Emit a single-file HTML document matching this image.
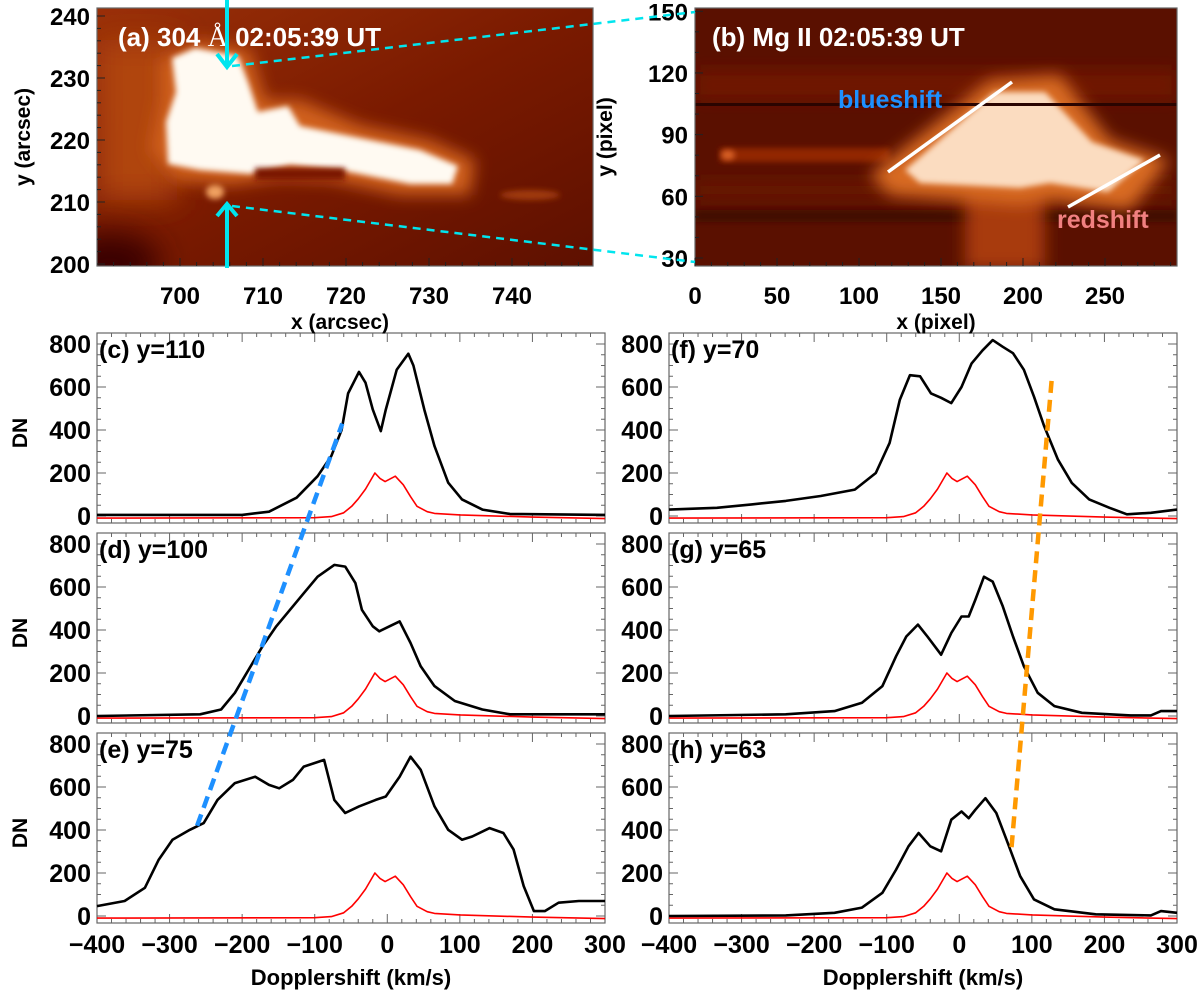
<!DOCTYPE html>
<html>
<head>
<meta charset="utf-8">
<style>
  html,body{margin:0;padding:0;background:#fff;}
  svg{display:block;font-family:"Liberation Sans",sans-serif;font-weight:bold;}
</style>
</head>
<body>
<svg id="fig" width="1200" height="994" viewBox="0 0 1200 994" xmlns="http://www.w3.org/2000/svg">
  <defs>
    <filter id="b8" x="-50%" y="-50%" width="200%" height="200%"><feGaussianBlur stdDeviation="8"/></filter>
    <filter id="b4" x="-50%" y="-50%" width="200%" height="200%"><feGaussianBlur stdDeviation="3"/></filter>
    <filter id="b15" x="-50%" y="-50%" width="200%" height="200%"><feGaussianBlur stdDeviation="15"/></filter>
    <clipPath id="clipA"><rect x="97" y="8" width="496" height="258"/></clipPath>
    <clipPath id="clipB"><rect x="695" y="8" width="482" height="258"/></clipPath>
    <linearGradient id="gA" x1="0" y1="0" x2="1" y2="1">
      <stop offset="0" stop-color="#9a3008"/><stop offset="0.5" stop-color="#7a1a00"/><stop offset="1" stop-color="#5e1000"/>
    </linearGradient>
  </defs>

  <!-- Panel (a) image -->
  <g clip-path="url(#clipA)">
    <rect x="97" y="8" width="496" height="258" fill="url(#gA)"/>
    <rect x="97" y="40" width="80" height="160" fill="#b0440f" filter="url(#b15)"/>
    <ellipse cx="110" cy="262" rx="50" ry="30" fill="#3a0500" filter="url(#b15)"/>
    <polygon points="160,60 200,40 250,50 265,100 300,100 360,125 430,140 475,160 470,195 400,195 330,180 280,178 230,185 175,180 150,150 160,100" fill="#d0601a" filter="url(#b8)"/>
    <polygon points="172,58 195,48 238,56 248,82 258,112 288,106 300,126 350,136 420,150 458,166 452,184 410,184 340,170 290,165 250,174 200,170 168,164 166,122 176,92" fill="#fffaf2" filter="url(#b4)"/>
    <rect x="255" y="168" width="90" height="12" fill="#7a1800" filter="url(#b4)"/>
    <ellipse cx="215" cy="192" rx="9" ry="7" fill="#f0a060" filter="url(#b4)"/>
    <ellipse cx="530" cy="195" rx="30" ry="5" fill="#a03a0c" filter="url(#b4)"/>
  </g>

  <!-- Panel (b) image -->
  <g clip-path="url(#clipB)">
    <rect x="695" y="8" width="482" height="258" fill="#5a1000"/>
    <rect x="695" y="70" width="482" height="30" fill="#701800" filter="url(#b8)"/>
    <rect x="695" y="180" width="482" height="20" fill="#681600" filter="url(#b8)"/>
    <rect x="695" y="210" width="482" height="12" fill="#420800" filter="url(#b4)"/>
    <rect x="720" y="148" width="170" height="14" fill="#922806" filter="url(#b4)"/>
    <ellipse cx="728" cy="155" rx="7" ry="5" fill="#d86028" filter="url(#b4)"/>
    <rect x="965" y="185" width="80" height="85" fill="#a83a0c" filter="url(#b8)"/>
    <polygon points="870,175 990,80 1060,75 1110,140 1170,160 1130,210 1050,200 1020,205 890,195" fill="#d86a24" filter="url(#b8)"/>
    <polygon points="905,170 995,92 1045,92 1092,142 1145,160 1108,192 1050,183 1020,188 920,183" fill="#fbdcc0" filter="url(#b4)"/>
    <rect x="695" y="103" width="482" height="3" fill="#2a0400"/>
  </g>

  <g id="axesTop"></g>
  <g id="bottom"></g>
  <g id="overlay"></g>
</svg>

<script>
// ---------------- data ----------------
const velTicks = [-400, -300, -200, -100, 0, 100, 200, 300];
const dnTicks = [0, 200, 400, 600, 800];
const panelLabels = ["(c) y=110", "(d) y=100", "(e) y=75", "(f) y=70", "(g) y=65", "(h) y=63"];

const refV = [-400,-100,-77,-60,-49,-40,-30,-17,-10,-3,11,22,32,41,55,65,100,200,300];
const refDN = [-10,-8,-3,15,45,80,125,200,175,160,185,145,90,45,20,12,5,-5,-12];

const cV = [-400,-200,-163,-125,-96,-77,-63,-54,-39,-30,-20,-9,-2,13,29,36,51,65,84,103,131,169,300];
const cDN = [5,5,20,85,185,280,400,570,670,620,495,395,495,680,755,700,495,325,155,77,30,10,5];

const dV = [-400,-258,-229,-210,-191,-172,-153,-134,-115,-96,-73,-58,-44,-35,-20,-11,3,17,32,46,65,93,131,169,300];
const dDN = [0,8,30,108,216,324,417,494,571,648,703,695,618,494,417,394,417,440,340,231,139,70,30,8,8];

const eV = [-400,-362,-334,-315,-296,-272,-253,-234,-210,-182,-163,-149,-130,-115,-87,-73,-58,-39,-16,-2,17,32,46,65,84,103,117,141,160,174,188,202,217,236,264,300];
const eDN = [46,70,131,262,355,401,432,540,618,648,610,594,633,695,726,540,479,510,540,556,648,741,680,510,401,355,370,409,386,309,139,23,23,62,70,70];

const fV = [-400,-334,-286,-239,-191,-144,-115,-96,-82,-68,-54,-39,-25,-11,3,17,32,46,60,74,89,103,117,136,155,179,207,231,264,300];
const fDN = [30,38,54,70,93,123,200,340,540,655,650,570,550,525,600,710,770,818,787,757,680,555,417,262,154,77,38,8,15,30];

const gV = [-400,-239,-172,-134,-106,-87,-73,-57,-44,-25,-11,3,13,22,34,46,60,74,89,108,131,169,236,264,278,300];
const gDN = [0,8,23,62,139,278,370,425,370,285,386,463,463,540,648,625,510,370,231,108,46,15,3,3,23,23];

const hV = [-400,-239,-172,-134,-106,-87,-70,-56,-40,-25,-11,3,13,22,36,51,65,84,103,131,188,264,278,300];
const hDN = [0,3,15,39,108,216,324,386,324,301,448,486,455,494,548,479,355,185,77,31,8,3,23,15];

const seriesV = [cV, dV, eV, fV, gV, hV];
const seriesDN = [cDN, dDN, eDN, fDN, gDN, hDN];

// dashed guide lines: [panelIndex, velocity, DN]
const blueStart = [2, -262, 420], blueEnd = [0, -62, 430];
const orangeStart = [5, 72, 320], orangeEnd = [3, 128, 660];

// top panels
const aXTicks = [700, 710, 720, 730, 740];
const aYTicks = [200, 210, 220, 230, 240];
const bXTicks = [0, 50, 100, 150, 200, 250];
const bYTicks = [30, 60, 90, 120, 150];

// ---------------- geometry ----------------
const NS = "http://www.w3.org/2000/svg";
const colLeft = [97, 669], rowTop = [333, 533, 733], PW = 508, PH = 190;
function px(panel, v) { const c = Math.floor(panel / 3); return colLeft[c] + (v + 400) * PW / 700; }
function py(panel, d) { const r = panel % 3; return rowTop[r] + 11 + (800 - d) * 0.215; }
function ax(v) { return 180 + (v - 700) * 8.3; }
function ay(v) { return 264 - (v - 200) * 6.2; }
function bx(v) { return 695 + v * 1.64; }
function by(v) { return 258 - (v - 30) * 2.056; }

function el(tag, attrs, parent, text) {
  const e = document.createElementNS(NS, tag);
  for (const k in attrs) e.setAttribute(k, attrs[k]);
  if (text !== undefined) e.textContent = text;
  parent.appendChild(e);
  return e;
}

const bottom = document.getElementById("bottom");
const axesTop = document.getElementById("axesTop");
const overlay = document.getElementById("overlay");
const FRAME = "#666";

// ---------------- bottom panels ----------------
for (let p = 0; p < 6; p++) {
  const c = Math.floor(p / 3), r = p % 3;
  const L = colLeft[c], T = rowTop[r];
  const g = el("g", {}, bottom);
  
  
  el("rect", {x: L, y: T, width: PW, height: PH, fill: "#fff", stroke: FRAME, "stroke-width": 1.2}, g);
  for (let d = 0; d <= 800; d += 50) {
    const y = py(p, d), len = d % 200 === 0 ? 9 : 4;
    el("line", {x1: L, x2: L + len, y1: y, y2: y, stroke: FRAME, "stroke-width": 1}, g);
    el("line", {x1: L + PW, x2: L + PW - len, y1: y, y2: y, stroke: FRAME, "stroke-width": 1}, g);
  }
  for (let v = -400; v <= 300; v += 20) {
    const x = px(p, v), len = v % 100 === 0 ? 9 : 4;
    el("line", {x1: x, x2: x, y1: T + PH, y2: T + PH - len, stroke: FRAME, "stroke-width": 1}, g);
    el("line", {x1: x, x2: x, y1: T, y2: T + len, stroke: FRAME, "stroke-width": 1}, g);
  }
  for (const d of dnTicks) {
    const t = el("text", {x: L - 6, y: py(p, d) + 9, "text-anchor": "end", "font-size": 25}, g, String(d));
    
    
  }
  if (c === 0) {
    const t = el("text", {x: 0, y: 0, "text-anchor": "middle", "font-size": 21, transform: `translate(27 ${T + 100}) rotate(-90)`}, g, "DN");
    
    
  }
  const lbl = el("text", {x: L + 2, y: T + 25, "font-size": 25}, g, panelLabels[p]);
  
  
  const redPts = refV.map((v, i) => px(p, v).toFixed(1) + "," + py(p, refDN[i]).toFixed(1)).join(" ");
  const red = el("polyline", {points: redPts, fill: "none", stroke: "#f00", "stroke-width": 1.6, "stroke-linejoin": "round"}, g);
  
  
  const bPts = seriesV[p].map((v, i) => px(p, v).toFixed(1) + "," + py(p, seriesDN[p][i]).toFixed(1)).join(" ");
  const blk = el("polyline", {points: bPts, fill: "none", stroke: "#000", "stroke-width": 2.6, "stroke-linejoin": "round"}, g);
  
  
  if (r === 2) {
    for (const v of velTicks) {
      const t = el("text", {x: px(p, v), y: 953, "text-anchor": "middle", "font-size": 25}, g, (v < 0 ? "\u2212" + (-v) : String(v)));
      
      
    }
    const xt = el("text", {x: L + PW / 2, y: 985, "text-anchor": "middle", "font-size": 22}, g, "Dopplershift (km/s)");
    
    
  }
}

function guide(s, e, color, name) {
  const l = el("line", {x1: px(s[0], s[1]), y1: py(s[0], s[2]), x2: px(e[0], e[1]), y2: py(e[0], e[2]), stroke: color, "stroke-width": 4.5, "stroke-dasharray": "12 7"}, overlay);
  
  
}
guide(blueStart, blueEnd, "#1e90ff", "blueshift-guide-line");
guide(orangeStart, orangeEnd, "#ff9900", "redshift-guide-line");

// ---------------- top axes ----------------
function frameTop(L, T, W, H, name) {
  const r = el("rect", {x: L, y: T, width: W, height: H, fill: "none", stroke: FRAME, "stroke-width": 1.2}, axesTop);
  
  
}
frameTop(97, 8, 496, 258, "panel-a-frame");
frameTop(695, 8, 482, 258, "panel-b-frame");
for (let v = 692; v <= 749; v += 2) {
  const x = ax(v), len = v % 10 === 0 ? 8 : 4;
  el("line", {x1: x, x2: x, y1: 266, y2: 266 - len, stroke: "#222"}, axesTop);
}
for (let v = 200; v <= 240; v += 2) {
  const y = ay(v), len = v % 10 === 0 ? 8 : 4;
  el("line", {x1: 97, x2: 97 + len, y1: y, y2: y, stroke: "#222"}, axesTop);
}
for (let v = 0; v <= 290; v += 10) {
  const x = bx(v), len = v % 50 === 0 ? 8 : 4;
  el("line", {x1: x, x2: x, y1: 266, y2: 266 - len, stroke: "#222"}, axesTop);
}
for (let v = 30; v <= 150; v += 10) {
  const y = by(v), len = v % 30 === 0 ? 8 : 4;
  el("line", {x1: 695, x2: 695 + len, y1: y, y2: y, stroke: "#222"}, axesTop);
}
for (const v of aXTicks) {
  const t = el("text", {x: ax(v), y: 304, "text-anchor": "middle", "font-size": 24}, axesTop, String(v));
  
  
}
for (const v of aYTicks) {
  const t = el("text", {x: 90, y: ay(v) + 9, "text-anchor": "end", "font-size": 24}, axesTop, String(v));
  
  
}
for (const v of bXTicks) {
  const t = el("text", {x: bx(v), y: 304, "text-anchor": "middle", "font-size": 24}, axesTop, String(v));
  
  
}
for (const v of bYTicks) {
  const t = el("text", {x: 688, y: by(v) + 9, "text-anchor": "end", "font-size": 24}, axesTop, String(v));
  
  
}
</script>

<svg width="1200" height="994" viewBox="0 0 1200 994" xmlns="http://www.w3.org/2000/svg" style="position:absolute;left:0;top:0;font-family:'Liberation Sans',sans-serif;font-weight:bold;">
  <text x="340" y="329" text-anchor="middle" font-size="21">x (arcsec)</text>
  <text x="936" y="329" text-anchor="middle" font-size="21">x (pixel)</text>
  <text transform="translate(30 137) rotate(-90)" text-anchor="middle" font-size="21">y (arcsec)</text>
  <text transform="translate(612 137) rotate(-90)" text-anchor="middle" font-size="21">y (pixel)</text>

  <text x="118" y="46" font-size="26" fill="#fff">(a) 304 <tspan font-family="'Liberation Serif',serif" font-weight="normal" font-size="28">Å</tspan> 02:05:39 UT</text>
  <text x="712" y="46" font-size="26" fill="#fff">(b)  Mg II 02:05:39 UT</text>

  <g stroke="#00e5ee" stroke-width="4" fill="none">
    <line x1="227" y1="0" x2="227" y2="66"/>
    <polyline points="217,54 227,67 237,54"/>
    <line x1="227" y1="268" x2="227" y2="205"/>
    <polyline points="217,216 227,204 237,216"/>
  </g>
  <g stroke="#00e5ee" stroke-width="2.5" stroke-dasharray="8 6">
    <line x1="232" y1="66" x2="695" y2="12"/>
    <line x1="232" y1="206" x2="695" y2="262"/>
  </g>

  <line x1="888" y1="172" x2="1012" y2="82" stroke="#fff" stroke-width="3.5"/>
  <line x1="1068" y1="207" x2="1160" y2="155" stroke="#fff" stroke-width="3.5"/>
  <text x="838" y="108" font-size="25" fill="#1e90ff">blueshift</text>
  <text x="1057" y="228" font-size="25" fill="#f08080">redshift</text>
</svg>
</body>
</html>
